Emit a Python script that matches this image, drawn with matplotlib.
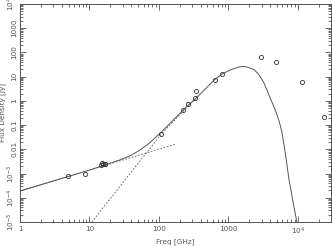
import matplotlib
matplotlib.use('Agg')
import matplotlib.pyplot as plt
import matplotlib.ticker as mticker
import numpy as np

# measured flux densities
freq_obs = [4.88, 8.55, 14.5, 15.2, 15.8, 16.5, 17.0, 108.6, 224, 265, 333, 345,
            646, 813, 2950, 4840, 11400, 23600]
flux_obs = [7.9e-4, 9.6e-4, 2.3e-3, 2.7e-3, 2.4e-3, 2.6e-3, 2.5e-3, 0.043, 0.42, 0.74, 1.31, 2.56,
            7.3, 12.9, 64.9, 40.3, 6.0, 0.216]

# total model curve
freq_tot = [1, 10.1, 27.2, 37.8, 52.5, 73.1, 108.6, 224, 381, 625, 813, 1094, 1426, 1650, 1858,
            2339, 2761, 3258, 3837, 4842, 5400, 5902, 6622, 7430, 8472, 9683]
flux_tot = [1.9e-4, 1.4e-3, 3.62e-3, 5.3e-3, 9.02e-3, 1.82e-2, 5.19e-2, 0.421, 1.75, 7.28, 12.9,
            19.5, 25.1, 26.5, 25.1, 19.5, 12.0, 5.47, 1.75, 0.35, 0.14, 0.05, 6.5e-3, 6.0e-4, 7.35e-5, 1.0e-5]

# synchrotron component
freq_syn = [1, 172]
flux_syn = [1.9e-4, 1.63e-2]

# dust component
freq_dust = [10.8, 19.5, 37.8, 73.1, 108.6, 224, 381]
flux_dust = [1.0e-5, 8.5e-5, 9.6e-4, 1.03e-2, 4.3e-2, 0.38, 1.7]

xtick_vals = [1, 10, 100, 1000, 1e4]
xtick_labels = ['1', '10', '100', '1000', '10$^4$']
ytick_vals = [1e-5, 1e-4, 1e-3, 0.01, 0.1, 1, 10, 100, 1000, 1e4]
ytick_labels = ['10$^{-5}$', '10$^{-4}$', '10$^{-3}$', '0.01', '0.1', '1', '10', '100', '1000', '10$^4$']

col = '#555555'
fs = 5.2

fig = plt.figure(figsize=(3.32, 2.46), dpi=100)
ax = fig.add_axes([20/332, 24/246, 311/332, 218/246])

ax.plot(freq_tot, flux_tot, '-', color=col, lw=0.7)
ax.plot(freq_syn, flux_syn, '--', color=col, lw=0.6, dashes=(2, 2))
ax.plot(freq_dust, flux_dust, '--', color=col, lw=0.6, dashes=(2, 2))
ax.plot(freq_obs, flux_obs, 'o', mfc='none', mec='#333333', ms=3, mew=0.6)

ax.set_xscale('log')
ax.set_yscale('log')
ax.set_xlim(1, 3e4)
ax.set_ylim(1e-5, 1e4)

ax.set_xticks(xtick_vals)
ax.set_xticklabels(xtick_labels)
ax.set_yticks(ytick_vals)
ax.set_yticklabels(ytick_labels, rotation=90, va='center')
ax.xaxis.set_minor_locator(mticker.LogLocator(base=10, subs=np.arange(2, 10), numticks=20))
ax.yaxis.set_minor_locator(mticker.LogLocator(base=10, subs=np.arange(2, 10), numticks=20))
ax.xaxis.set_minor_formatter(mticker.NullFormatter())
ax.yaxis.set_minor_formatter(mticker.NullFormatter())

ax.tick_params(which='both', direction='in', top=True, right=True, colors=col,
               labelsize=fs, labelcolor=col, width=0.6)
ax.tick_params(axis='x', pad=3)
ax.tick_params(axis='y', pad=2)
ax.tick_params(which='major', length=4)
ax.tick_params(which='minor', length=2)
for s in ax.spines.values():
    s.set_color(col)
    s.set_linewidth(0.7)

ax.set_xlabel('Freq [GHz]', fontsize=fs, color=col)
ax.set_ylabel('Flux Density [Jy]', fontsize=fs, color=col)
ax.xaxis.set_label_coords(0.5, -0.075)
ax.yaxis.set_label_coords(-0.045, 0.5)

fig.savefig('out.png', dpi=100)
